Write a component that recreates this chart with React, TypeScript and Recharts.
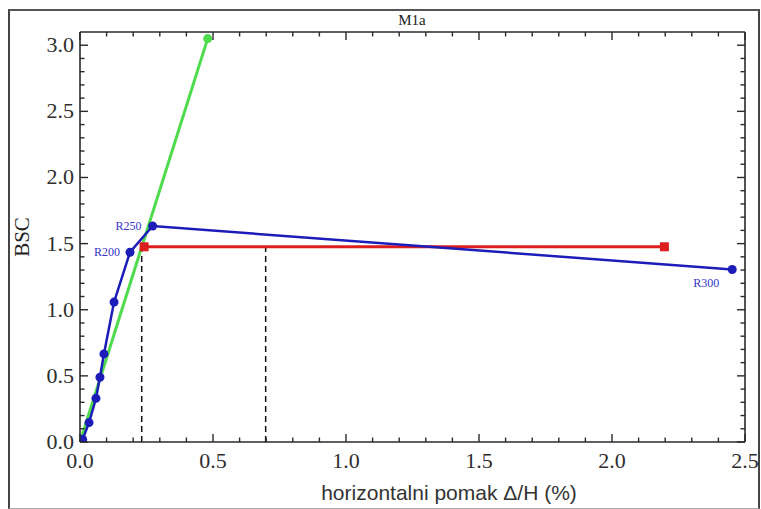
import React from 'react';
import { LineChart, Line, XAxis, YAxis, LabelList } from 'recharts';

// pushover curve, blue
const blueData = [
  { x: 0.01, y: 0.02, name: '' },
  { x: 0.034, y: 0.147, name: '' },
  { x: 0.06, y: 0.33, name: '' },
  { x: 0.075, y: 0.49, name: '' },
  { x: 0.09, y: 0.666, name: '' },
  { x: 0.128, y: 1.058, name: '' },
  { x: 0.188, y: 1.435, name: 'R200' },
  { x: 0.273, y: 1.633, name: 'R250' },
  { x: 2.452, y: 1.304, name: 'R300' },
];

// elastic stiffness line
const greenData = [
  { x: 0, y: 0 },
  { x: 0.48, y: 3.05 },
];

// bilinear idealisation
const redData = [
  { x: 0.241, y: 1.476 },
  { x: 2.197, y: 1.476 },
];

const dashA = [
  { x: 0.232, y: 0 },
  { x: 0.232, y: 1.476 },
];
const dashB = [
  { x: 0.698, y: 0 },
  { x: 0.698, y: 1.476 },
];

const xTicks = [0, 0.1, 0.2, 0.3, 0.4, 0.5, 0.6, 0.7, 0.8, 0.9, 1.0, 1.1, 1.2, 1.3, 1.4, 1.5, 1.6, 1.7, 1.8, 1.9, 2.0, 2.1, 2.2, 2.3, 2.4, 2.5];
const yTicks = [0, 0.1, 0.2, 0.3, 0.4, 0.5, 0.6, 0.7, 0.8, 0.9, 1.0, 1.1, 1.2, 1.3, 1.4, 1.5, 1.6, 1.7, 1.8, 1.9, 2.0, 2.1, 2.2, 2.3, 2.4, 2.5, 2.6, 2.7, 2.8, 2.9, 3.0];

const BLUE = '#1c1cb8';
const GREEN = '#4cdc4c';
const RED = '#dc1e1e';
const FRAME = '#2a2a2a';
const SERIF = '"Liberation Serif", "DejaVu Serif", serif';

const isMajor = (v: number) => Math.abs(v * 2 - Math.round(v * 2)) < 1e-6;
const tickLen = (v: number) => (isMajor(v) ? 8 : 4.5);

const labelOffsets: Record<string, { dx: number; dy: number; anchor: 'end' | 'middle' }> = {
  R200: { dx: -10, dy: 4, anchor: 'end' },
  R250: { dx: -11, dy: 4, anchor: 'end' },
  R300: { dx: -26, dy: 17, anchor: 'middle' },
};

const tickText = { fontFamily: SERIF, fontSize: 22, fill: '#2e2e2e' };

function BottomTick(props: any) {
  const { x, y, payload } = props;
  const v = payload.value;
  return (
    <g>
      <line x1={x} x2={x} y1={y} y2={y - tickLen(v)} stroke={FRAME} strokeWidth={1.4} />
      {isMajor(v) && (
        <text x={x} y={y + 26} textAnchor="middle" {...tickText}>
          {v.toFixed(1)}
        </text>
      )}
    </g>
  );
}

function TopTick(props: any) {
  const { x, y, payload } = props;
  const v = payload.value;
  return <line x1={x} x2={x} y1={y} y2={y + tickLen(v)} stroke={FRAME} strokeWidth={1.4} />;
}

function LeftTick(props: any) {
  const { x, y, payload } = props;
  const v = payload.value;
  return (
    <g>
      <line x1={x} x2={x + tickLen(v)} y1={y} y2={y} stroke={FRAME} strokeWidth={1.4} />
      {isMajor(v) && (
        <text x={x - 6} y={y + 7} textAnchor="end" {...tickText}>
          {v.toFixed(1)}
        </text>
      )}
    </g>
  );
}

function RightTick(props: any) {
  const { x, y, payload } = props;
  const v = payload.value;
  return <line x1={x} x2={x - tickLen(v)} y1={y} y2={y} stroke={FRAME} strokeWidth={1.4} />;
}

function BlueLabel(props: any) {
  const { x, y, value } = props;
  const o = labelOffsets[value];
  if (!o) return null;
  return (
    <text x={x + o.dx} y={y + o.dy} textAnchor={o.anchor} fontFamily={SERIF} fontSize={12} fill="#3535c8">
      {value}
    </text>
  );
}

const SquareDot = (props: any) => {
  const { cx, cy, index } = props;
  return <rect key={index} x={cx - 4.5} y={cy - 4.5} width={9} height={9} fill={RED} />;
};

const axisLine = { stroke: FRAME, strokeWidth: 1.6 };

export default function App() {
  return (
    <div style={{ position: 'absolute', left: 0, top: 0, width: 761, height: 509, background: '#fff' }}>
      <div
        style={{
          position: 'absolute',
          left: 8,
          top: 9,
          width: 748,
          height: 497,
          borderLeft: '2px solid #444',
          borderTop: '2px solid #555',
          borderRight: '2px solid #444',
          borderBottom: '1px solid #aaa',
        }}
      />
      <div style={{ position: 'absolute', left: 0, top: 0 }}>
        <LineChart width={761} height={509} margin={{ top: 22, right: 6, bottom: 37, left: 40 }}>
          <XAxis
            xAxisId={0}
            type="number"
            dataKey="x"
            domain={[0, 2.5]}
            ticks={xTicks}
            interval={0}
            height={30}
            tickSize={0}
            tickMargin={0}
            tickLine={false}
            axisLine={axisLine}
            tick={BottomTick}
            allowDataOverflow
          />
          <XAxis
            xAxisId="top"
            orientation="top"
            type="number"
            dataKey="x"
            domain={[0, 2.5]}
            ticks={xTicks}
            interval={0}
            height={10}
            tickSize={0}
            tickMargin={0}
            tickLine={false}
            axisLine={axisLine}
            tick={TopTick}
            allowDataOverflow
          />
          <YAxis
            yAxisId={0}
            type="number"
            domain={[0, 3.1]}
            ticks={yTicks}
            interval={0}
            width={40}
            tickSize={0}
            tickMargin={0}
            tickLine={false}
            axisLine={axisLine}
            tick={LeftTick}
            allowDataOverflow
          />
          <YAxis
            yAxisId="right"
            orientation="right"
            type="number"
            domain={[0, 3.1]}
            ticks={yTicks}
            interval={0}
            width={10}
            tickSize={0}
            tickMargin={0}
            tickLine={false}
            axisLine={axisLine}
            tick={RightTick}
            allowDataOverflow
          />
          <Line data={dashA} dataKey="y" stroke="#111" strokeWidth={1.5} strokeDasharray="6 4" dot={false} isAnimationActive={false} />
          <Line data={dashB} dataKey="y" stroke="#111" strokeWidth={1.5} strokeDasharray="6 4" dot={false} isAnimationActive={false} />
          <Line data={redData} dataKey="y" stroke={RED} strokeWidth={3} dot={SquareDot} isAnimationActive={false} />
          <Line data={greenData} dataKey="y" stroke={GREEN} strokeWidth={3} dot={{ r: 3, fill: GREEN, stroke: GREEN }} isAnimationActive={false} />
          <Line data={blueData} dataKey="y" stroke={BLUE} strokeWidth={2.5} dot={{ r: 4.5, fill: BLUE, stroke: BLUE, strokeWidth: 0 }} isAnimationActive={false}>
            <LabelList dataKey="name" content={BlueLabel} />
          </Line>
        </LineChart>
      </div>
      <div style={{ position: 'absolute', left: 312, width: 200, top: 12, textAlign: 'center', fontFamily: SERIF, fontSize: 15, color: '#222' }}>
        M1a
      </div>
      <div
        style={{
          position: 'absolute',
          left: 22,
          top: 237,
          transform: 'translate(-50%, -50%) rotate(-90deg)',
          fontFamily: SERIF,
          fontSize: 21,
          color: '#222',
          whiteSpace: 'nowrap',
        }}
      >
        BSC
      </div>
      <div
        style={{
          position: 'absolute',
          left: 199,
          width: 500,
          top: 481,
          textAlign: 'center',
          fontFamily: '"Liberation Sans", Arial, sans-serif',
          fontSize: 21,
          color: '#333',
          whiteSpace: 'nowrap',
        }}
      >
        horizontalni pomak Δ/H (%)
      </div>
    </div>
  );
}
